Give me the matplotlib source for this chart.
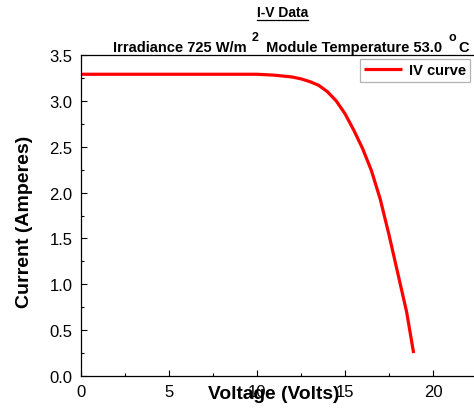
import numpy as np
import matplotlib
matplotlib.use("Agg")
import matplotlib.pyplot as plt
from matplotlib.lines import Line2D
from matplotlib.ticker import MultipleLocator

plt.rcParams['font.family'] = ['Liberation Sans', 'DejaVu Sans']

# datos
voltage = [0, 2, 4, 6, 8, 10, 11, 12, 12.5, 13, 13.5, 14, 14.5, 15,
           15.5, 16, 16.5, 17, 17.5, 18, 18.5, 18.9]
current = [3.29, 3.29, 3.29, 3.29, 3.29, 3.29, 3.28, 3.26, 3.24, 3.21,
           3.17, 3.10, 3.00, 2.86, 2.68, 2.48, 2.24, 1.93, 1.54, 1.12,
           0.70, 0.25]
x_ticks = [0, 5, 10, 15, 20]
y_ticks = [0.0, 0.5, 1.0, 1.5, 2.0, 2.5, 3.0, 3.5]

W, H = 474, 410
fig = plt.figure(figsize=(W / 100, H / 100), dpi=100)
ax = fig.add_axes([81 / W, (H - 377) / H, (W - 81) / W, 321 / H])

ax.plot(voltage, current, color="#ff0000", lw=2.3, label="IV curve",
        solid_capstyle="butt")
ax.set_xlim(0, 22.33)
ax.set_ylim(0, 3.5)
ax.set_xticks(x_ticks)
ax.set_yticks(y_ticks)
ax.set_yticklabels([f"{v:.1f}" for v in y_ticks])
ax.xaxis.set_minor_locator(MultipleLocator(2.5))
ax.yaxis.set_minor_locator(MultipleLocator(0.25))
ax.tick_params(which="major", direction="in", length=4.3, width=0.8,
               labelsize=12, pad=6)
ax.tick_params(which="minor", direction="in", length=2.3, width=0.8)
ax.spines["right"].set_visible(False)
for s in ["left", "top", "bottom"]:
    ax.spines[s].set_linewidth(0.9)

ax.set_xlabel("Voltage (Volts)", fontsize=13.8, fontweight="bold")
ax.xaxis.set_label_coords((274 - 81) / 393, -0.028)
ax.set_ylabel("Current (Amperes)", fontsize=14, fontweight="bold")
ax.yaxis.set_label_coords(-0.122, 0.483)

leg = ax.legend(loc="upper right", bbox_to_anchor=(0.99, 0.9875),
                borderaxespad=0, fancybox=False, handlelength=2.6,
                handletextpad=0.45, borderpad=0.3,
                prop={"weight": "bold", "size": 10.5})
leg.get_frame().set_edgecolor("#a0a0a0")
leg.get_frame().set_linewidth(0.9)

# titulo
fig.canvas.draw()
r = fig.canvas.get_renderer()
t1 = fig.text(282.5 / W, 1 - 13 / H, "I-V Data", fontsize=10,
              fontweight="bold", ha="center", va="center")
bb = t1.get_window_extent(r)
y_ul = bb.y0 - 1.0
fig.add_artist(Line2D([bb.x0 / W, bb.x1 / W], [y_ul / H, y_ul / H],
                      color="black", lw=0.9))

# (texto, tamano, subida en px, hueco antes en px)
pieces = [("Irradiance 725 W/m", 10.5, 0, 0), ("2", 9, 11, 5),
          (" Module Temperature 53.0", 10.5, 0, 3),
          ("o", 9, 11, 7), ("C", 10.5, 0, 2)]
x = 113
base = H - 52
for txt, size, dy, gap in pieces:
    x += gap
    t = fig.text(x / W, (base + dy) / H, txt, fontsize=size,
                 fontweight="bold", ha="left", va="baseline")
    x = t.get_window_extent(r).x1

fig.savefig("out.png", dpi=100)
